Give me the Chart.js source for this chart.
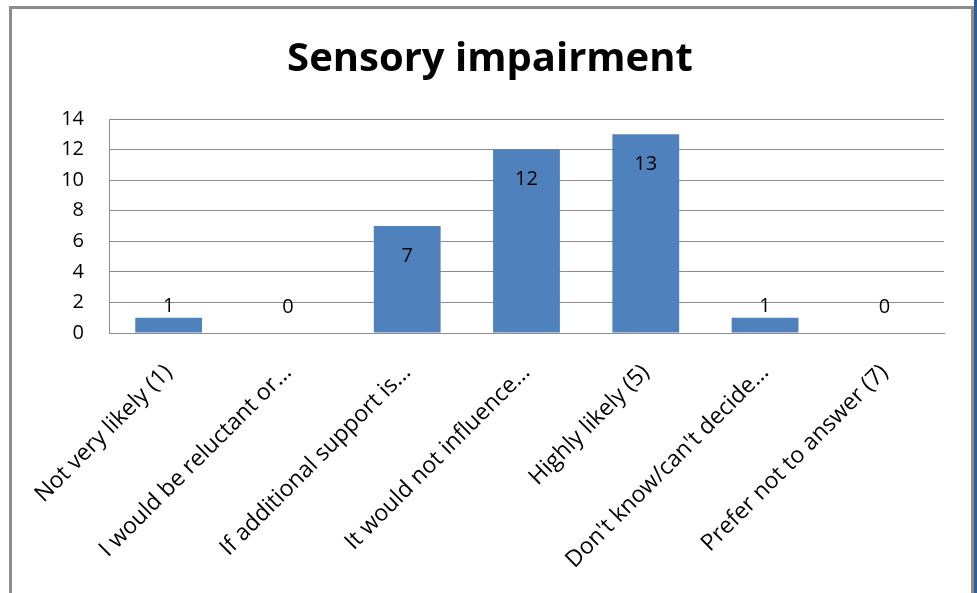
<!DOCTYPE html>
<html>
<head>
<meta charset="utf-8">
<script src="https://cdn.jsdelivr.net/npm/chart.js@4"></script>
<style>
  body { margin: 0; background: #fff; }
  #wrap { position: relative; width: 977px; height: 593px; overflow: hidden; }
  #myChart { position: absolute; left: 0; top: 0; }
  .frame { position: absolute; left: 9px; top: 6px; width: 959px; height: 700px;
           border: 3px solid #8c8c8c; border-bottom: none; pointer-events: none; }
  .edge { position: absolute; left: 974px; top: 0; width: 3px; height: 593px; background: #2f5d98; }
</style>
</head>
<body>
<div id="wrap">
  <canvas id="myChart" width="977" height="593"></canvas>
  <div class="frame"></div>
  <div class="edge"></div>
</div>
<script>
var categories = [
    'Not very likely (1)',
    'I would be reluctant or...',
    'If additional support is...',
    'It would not influence...',
    'Highly likely (5)',
    "Don't know/can't decide...",
    'Prefer not to answer (7)'
];
var counts = [1, 0, 7, 12, 13, 1, 0];
var yTicks = [0, 2, 4, 6, 8, 10, 12, 14];

var fontName = '"Open Sans", Lato, sans-serif';

// value labels: inside the top of tall bars, above short ones
var valueLabels = {
    id: 'valueLabels',
    afterDatasetsDraw: function (chart) {
        var ctx = chart.ctx;
        var meta = chart.getDatasetMeta(0);
        ctx.save();
        ctx.font = '20px ' + fontName;
        ctx.fillStyle = '#000';
        ctx.textAlign = 'center';
        ctx.textBaseline = 'middle';
        meta.data.forEach(function (bar, i) {
            var v = counts[i];
            var y = v >= 2 ? bar.y + 30 : Math.min(bar.y - 11, bar.base - 26);
            ctx.fillText(String(v), bar.x, y);
        });
        ctx.restore();
    }
};

var ctx = document.getElementById('myChart');

const myChart = new Chart(ctx, {
    type: 'bar',
    data: {
        labels: categories,
        datasets: [{
            data: counts,
            backgroundColor: '#4f81bd',
            borderWidth: 0,
            categoryPercentage: 1,
            barPercentage: 0.56
        }]
    },
    options: {
        responsive: false,
        animation: false,
        layout: { padding: { left: 36, right: 33, top: 0, bottom: 0 } },
        plugins: {
            legend: { display: false },
            tooltip: { enabled: false },
            title: {
                display: true,
                text: 'Sensory impairment',
                color: '#000',
                font: { family: fontName, size: 40, weight: 'bold', lineHeight: 1.2 },
                padding: { top: 36, bottom: 35 }
            }
        },
        scales: {
            x: {
                grid: { display: false, drawTicks: false },
                border: { display: true, color: '#8c8c8c', width: 1 },
                ticks: {
                    color: '#000',
                    font: { family: fontName, size: 23 },
                    minRotation: 45,
                    maxRotation: 45,
                    padding: 26,
                    autoSkip: false
                },
                afterFit: function (scale) { scale.height = 260; }
            },
            y: {
                min: 0,
                max: 14,
                afterBuildTicks: function (scale) {
                    scale.ticks = yTicks.map(function (v) { return { value: v }; });
                },
                grid: { color: '#8c8c8c', lineWidth: 1, drawTicks: false },
                border: { display: true, color: '#8c8c8c', width: 1 },
                ticks: {
                    color: '#000',
                    font: { family: fontName, size: 20 },
                    padding: 25
                },
                afterFit: function (scale) { scale.width = 73; }
            }
        }
    },
    plugins: [valueLabels]
});
</script>
</body>
</html>
